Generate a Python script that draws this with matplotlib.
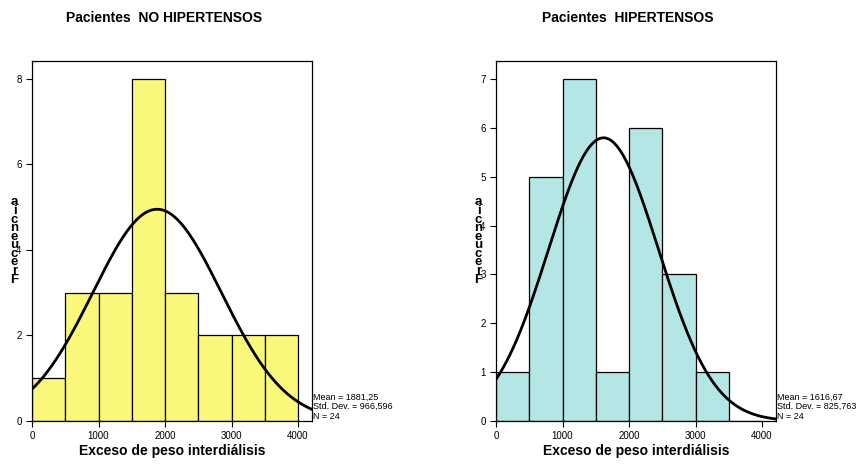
import numpy as np
import matplotlib
matplotlib.use("Agg")
import matplotlib.pyplot as plt

plt.rcParams['font.family'] = ['Liberation Sans', 'DejaVu Sans']

# bins of 500 g, 0..4000
bin_edges = [0, 500, 1000, 1500, 2000, 2500, 3000, 3500, 4000]
freq_no = [1, 3, 3, 8, 3, 2, 2, 2]
freq_hi = [1, 5, 7, 1, 6, 3, 1, 0]

stats_no = {'mean': 1881.25, 'sd': 966.596, 'n': 24}
stats_hi = {'mean': 1616.67, 'sd': 825.763, 'n': 24}

titles = ['Pacientes  NO HIPERTENSOS', 'Pacientes  HIPERTENSOS']
xlabel = 'Exceso de peso interdiálisis'
ylabel = 'Frecuencia'
colors = ['#FAF87A', '#B4E6E6']
ylims = [8.42, 7.37]
yticks = [[0, 2, 4, 6, 8], [0, 1, 2, 3, 4, 5, 6, 7]]

fig = plt.figure(figsize=(8.62, 4.66), dpi=100)
lefts = [32 / 862, 496 / 862]
panels = [(freq_no, stats_no), (freq_hi, stats_hi)]

for i, (freq, st) in enumerate(panels):
    ax = fig.add_axes([lefts[i], 45 / 466, 280 / 862, 360 / 466])
    widths = np.diff(bin_edges)
    ax.bar(bin_edges[:-1], freq, width=widths, align='edge',
           color=colors[i], edgecolor='black', linewidth=0.9)
    xs = np.linspace(0, 4210, 400)
    bw = widths[0]
    ys = st['n'] * bw / (st['sd'] * np.sqrt(2 * np.pi)) * np.exp(-0.5 * ((xs - st['mean']) / st['sd']) ** 2)
    ax.plot(xs, ys, color='black', linewidth=2)
    ax.set_xlim(0, 4210)
    ax.set_ylim(0, ylims[i])
    ax.set_xticks([0, 1000, 2000, 3000, 4000])
    ax.set_yticks(yticks[i])
    ax.tick_params(labelsize=7, length=4, width=0.8, direction='out')
    for s in ax.spines.values():
        s.set_linewidth(0.9)
    ax.set_xlabel(xlabel, fontsize=10, fontweight='bold', labelpad=2)
    ax.set_title(titles[i], fontsize=10, fontweight='bold', pad=28, x=0.47)
    txt = 'Mean = %s\nStd. Dev. = %s\nN = %d' % (
        ('%.2f' % st['mean']).replace('.', ','),
        ('%.3f' % st['sd']).replace('.', ','), st['n'])
    ax.text(1.005, 0.0, txt, transform=ax.transAxes, fontsize=6.5,
            ha='left', va='bottom', linespacing=1.1)
    # stacked y label, letters piled bottom-to-top like the SPSS output
    ax.text(-0.062, 0.50, '\n'.join(list(ylabel)[::-1]), transform=ax.transAxes,
            fontsize=9.5, fontweight='bold', ha='center', va='center',
            linespacing=0.62)

fig.savefig('out.png', dpi=100)
